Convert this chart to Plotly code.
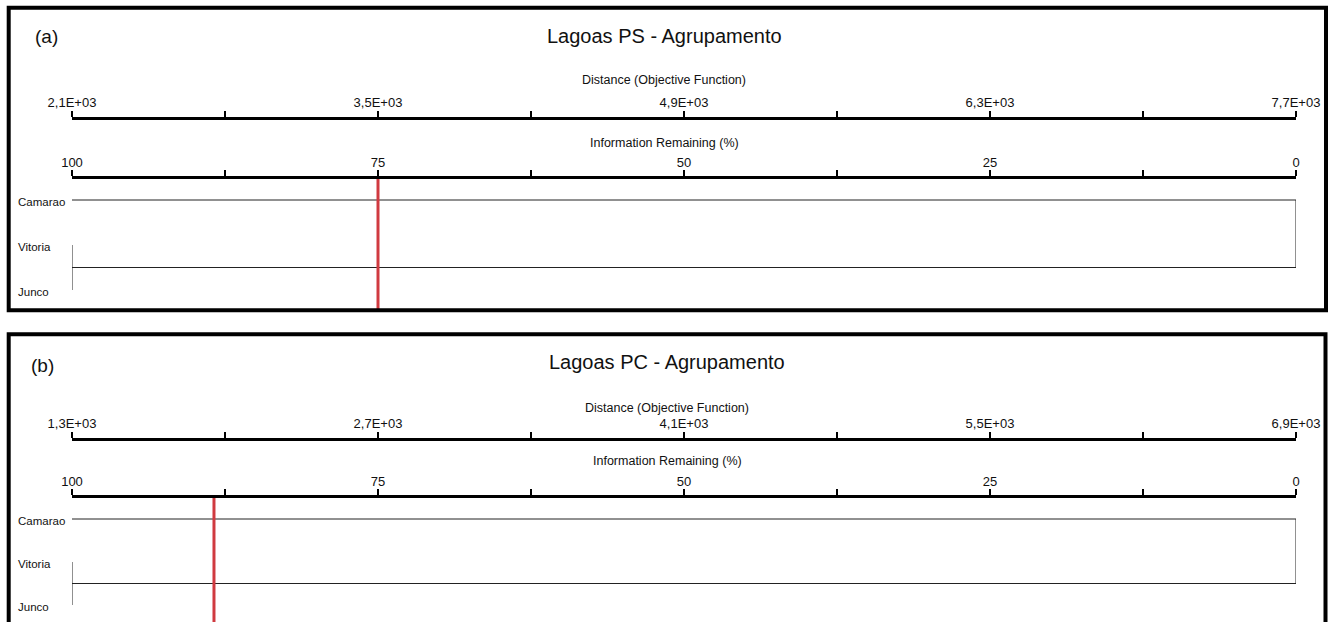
import plotly.graph_objects as go

# ---- data -------------------------------------------------------------
leaf_names = ["Camarao", "Vitoria", "Junco"]

# linkage: (child_a, child_b, information remaining % at fusion)
# leaves are 0..2, new clusters get ids 3, 4, ...
ps_linkage = [(1, 2, 100.0), (0, 3, 0.0)]
pc_linkage = [(1, 2, 100.0), (0, 3, 0.0)]

info_ticks = [100, 87.5, 75, 62.5, 50, 37.5, 25, 12.5, 0]
ps_dist_ticks = [2100, 2800, 3500, 4200, 4900, 5600, 6300, 7000, 7700]
pc_dist_ticks = [1300, 2000, 2700, 3400, 4100, 4800, 5500, 6200, 6900]

ps_cut = 75.0
pc_cut = 88.4

ps_title = "Lagoas PS - Agrupamento"
pc_title = "Lagoas PC - Agrupamento"

# ---- page geometry ------------------------------------------------------
W, H = 1333, 622
SANS = "Liberation Sans, Arial, sans-serif"
TXT = "#111111"
RED = "#d03a40"
LINE = "#222222"
TICK_SIZE = 13
SMALL = 12.5
TITLE_SIZE = 20


def fx(p):
    return p / W


def fy(p):
    return 1 - p / H


X_DOMAIN = [fx(72), fx(1296)]

panels = [
    dict(letter="(a)", title=ps_title, linkage=ps_linkage, dist=ps_dist_ticks, cut=ps_cut,
         border=(8.7, 7.7, 1326, 310.3), letter_xy=(46, 37), title_xy=(664, 36),
         dist_title_y=80, info_title_y=143, dist_axis=118, info_axis=179,
         bottom=310, leaf0=200, step=45),
    dict(letter="(b)", title=pc_title, linkage=pc_linkage, dist=pc_dist_ticks, cut=pc_cut,
         border=(8.7, 334.3, 1325.5, 680), letter_xy=(42, 365), title_xy=(667, 362),
         dist_title_y=408, info_title_y=461, dist_axis=439, info_axis=498,
         bottom=622, leaf0=519, step=43),
]


def dendro_segments(linkage, n_leaves):
    """Return x/y polyline (None-separated) for a left-to-right dendrogram."""
    pos = {i: float(i) for i in range(n_leaves)}
    height = {i: 100.0 for i in range(n_leaves)}
    xs, ys = [], []
    nid = n_leaves
    for a, b, h in linkage:
        for c in (a, b):
            xs += [height[c], h, None]
            ys += [pos[c], pos[c], None]
        xs += [h, h, None]
        ys += [pos[a], pos[b], None]
        pos[nid] = (pos[a] + pos[b]) / 2
        height[nid] = h
        nid += 1
    return xs, ys, pos, height


def sci_label(v):
    return f"{v:.1E}".replace(".", ",")


fig = go.Figure()
layout = dict(
    template="none",
    width=W, height=H, autosize=False, margin=dict(l=0, r=0, t=0, b=0, pad=0),
    paper_bgcolor="white", plot_bgcolor="white", showlegend=False, hovermode=False,
    font=dict(family=SANS, size=SMALL, color=TXT),
)
shapes, annotations = [], []

axis_common = dict(
    showline=True, linecolor="black", linewidth=3, ticks="outside", ticklen=6,
    tickwidth=2, tickcolor="black", showgrid=False, zeroline=False, side="top",
    automargin=False, tickfont=dict(family=SANS, size=TICK_SIZE, color=TXT),
    fixedrange=True,
)

for k, p in enumerate(panels):
    xi = 2 * k + 1          # info axis index
    xd = 2 * k + 2          # distance axis index
    yk = k + 1
    xi_name = "x" if xi == 1 else f"x{xi}"
    xd_name = f"x{xd}"
    y_name = "y" if yk == 1 else f"y{yk}"

    xs, ys, pos, height = dendro_segments(p["linkage"], len(leaf_names))
    fig.add_trace(go.Scatter(x=xs, y=ys, mode="lines", xaxis=xi_name, yaxis=y_name,
                             line=dict(color=LINE, width=1), hoverinfo="skip"))

    # fusion nodes placed on the distance scale (invisible, keeps the axis bound)
    dmin, dmax = p["dist"][0], p["dist"][-1]
    node_ids = list(range(len(leaf_names), len(leaf_names) + len(p["linkage"])))
    node_d = [dmin + (100 - height[n]) / 100 * (dmax - dmin) for n in node_ids]
    fig.add_trace(go.Scatter(x=node_d, y=[pos[n] for n in node_ids], mode="markers",
                             xaxis=xd_name, yaxis=y_name, marker=dict(opacity=0),
                             hoverinfo="skip"))

    # y axis: leaves at fixed pixel pitch inside the panel's lower area
    top_px, bot_px = p["info_axis"], p["bottom"]
    r_top = -(p["leaf0"] - top_px) / p["step"]
    r_bot = (bot_px - p["leaf0"]) / p["step"]
    layout["yaxis" if yk == 1 else f"yaxis{yk}"] = dict(
        domain=[fy(bot_px), fy(top_px)], range=[r_bot, r_top], visible=False,
        automargin=False, fixedrange=True)

    layout["xaxis" if xi == 1 else f"xaxis{xi}"] = dict(
        axis_common, domain=X_DOMAIN, anchor=y_name, range=[100, 0],
        tickvals=info_ticks, ticklabelstandoff=-2,
        ticktext=[f"{v:g}" if v % 25 == 0 else "" for v in info_ticks])

    layout[f"xaxis{xd}"] = dict(
        axis_common, overlaying=xi_name, anchor="free", position=fy(p["dist_axis"]),
        range=[dmin, dmax], tickvals=p["dist"], ticklabelstandoff=-1,
        ticktext=[sci_label(v) if i % 2 == 0 else "" for i, v in enumerate(p["dist"])])

    # cut level
    shapes.append(dict(type="line", xref=xi_name, yref=f"{y_name} domain",
                       x0=p["cut"], x1=p["cut"], y0=0, y1=1,
                       line=dict(color=RED, width=3)))

    # panel frame
    bx0, by0, bx1, by1 = p["border"]
    shapes.append(dict(type="rect", xref="paper", yref="paper",
                       x0=fx(bx0), x1=fx(bx1), y0=fy(by1), y1=fy(by0),
                       line=dict(color="black", width=4), fillcolor="rgba(0,0,0,0)"))

    # texts
    lx, ly = p["letter_xy"]
    annotations.append(dict(text=p["letter"], xref="paper", yref="paper", x=fx(lx), y=fy(ly),
                            showarrow=False, xanchor="center", yanchor="middle",
                            font=dict(family=SANS, size=19, color=TXT)))
    tx, ty = p["title_xy"]
    annotations.append(dict(text=p["title"], xref="paper", yref="paper", x=fx(tx), y=fy(ty),
                            showarrow=False, xanchor="center", yanchor="middle",
                            font=dict(family=SANS, size=TITLE_SIZE, color=TXT)))
    annotations.append(dict(text="Distance (Objective Function)", xref="paper", yref="paper",
                            x=fx(tx), y=fy(p["dist_title_y"]), showarrow=False,
                            xanchor="center", yanchor="middle",
                            font=dict(family=SANS, size=SMALL, color=TXT)))
    annotations.append(dict(text="Information Remaining (%)", xref="paper", yref="paper",
                            x=fx(tx), y=fy(p["info_title_y"]), showarrow=False,
                            xanchor="center", yanchor="middle",
                            font=dict(family=SANS, size=SMALL, color=TXT)))
    for i, name in enumerate(leaf_names):
        annotations.append(dict(text=name, xref="paper", yref=y_name, x=fx(16), y=i,
                                yshift=-2, showarrow=False, xanchor="left",
                                yanchor="middle",
                                font=dict(family=SANS, size=11.5, color=TXT)))

layout["shapes"] = shapes
layout["annotations"] = annotations
fig.update_layout(**layout)
fig.write_html("out.html")
